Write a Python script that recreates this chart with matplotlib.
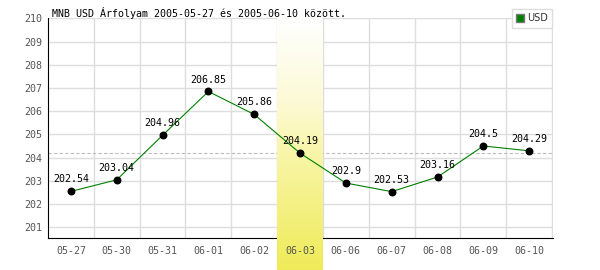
import numpy as np
import matplotlib
matplotlib.use('Agg')
import matplotlib.pyplot as plt
from matplotlib.patches import Patch
from matplotlib.colors import LinearSegmentedColormap

# 數據
dates = ['05-27', '05-30', '05-31', '06-01', '06-02', '06-03',
         '06-06', '06-07', '06-08', '06-09', '06-10']
rates = [202.54, 203.04, 204.96, 206.85, 205.86, 204.19,
         202.9, 202.53, 203.16, 204.5, 204.29]
ref_rate = 204.19
highlight_idx = 5
title = 'MNB USD Árfolyam 2005-05-27 és 2005-06-10 között.'

mono = 'DejaVu Sans Mono'

fig = plt.figure(figsize=(6, 2.7), dpi=100)
ax = fig.add_axes([48 / 600, 32 / 270, 505 / 600, 220 / 270])
ax.set_facecolor('white')

x = np.arange(len(dates))
ymin, ymax = 200.53, 210.02

# 網格
ax.set_axisbelow(True)
ax.set_xticks(x + 0.5, minor=True)
ax.set_xticks(x)
ax.set_yticks(np.arange(201, 211))
ax.grid(True, which='minor', axis='x', color='#dddddd', linewidth=1)
ax.grid(True, which='major', axis='y', color='#dddddd', linewidth=1)
ax.tick_params(which='both', length=0)
ax.tick_params(axis='x', labelbottom=False)
ax.tick_params(axis='y', labelcolor='#555555', labelsize=7.2, pad=4)
for lbl in ax.get_yticklabels():
    lbl.set_family(mono)

for s in ['top', 'right']:
    ax.spines[s].set_visible(False)
ax.spines['left'].set_color('black')
ax.spines['bottom'].set_color('black')

# 高亮列 (漸變)
cmap = LinearSegmentedColormap.from_list(
    'hl', [(0.0, '#ffffff'), (0.33, '#fcfad6'), (0.55, '#f8f5a6'), (1.0, '#efeb58')])
grad = np.linspace(0, 1, 256).reshape(-1, 1)
unit_px = 220 / (ymax - ymin)
y_bottom = ymin - 32 / unit_px
ax.imshow(grad, cmap=cmap, aspect='auto', origin='upper',
          extent=[highlight_idx - 0.5, highlight_idx + 0.5, y_bottom, ymax],
          zorder=2.6, clip_on=False)
ax.set_xlim(-0.5, 10.52)
ax.set_ylim(ymin, ymax)

# 參考線
ax.axhline(ref_rate, color='#bbbbbb', linestyle='--', linewidth=0.8, dashes=(3, 2), zorder=2)

# 匯率線
ax.plot(x, rates, color='#008000', linewidth=0.8, zorder=3)
ax.scatter(x, rates, s=22, color='black', zorder=4)

for xi, v in zip(x, rates):
    ax.annotate(f'{v:g}', (xi, v), xytext=(0, 5), textcoords='offset points',
                ha='center', va='bottom', fontsize=7.2, family=mono, zorder=5)

# x 軸標籤
for xi, d in zip(x, dates):
    ax.text(xi, -0.035, d, transform=ax.get_xaxis_transform(), ha='center', va='top',
            fontsize=7.2, family=mono, color='#555555', zorder=6, clip_on=False)

fig.text(52 / 600, 1 - 13 / 270, title, fontsize=7.2, family=mono, va='center', ha='left')

leg = fig.legend(handles=[Patch(facecolor='#008000', edgecolor='#777777', label='USD')],
                 loc='upper right', bbox_to_anchor=(552 / 600, 1 - 9 / 270),
                 fontsize=7, handlelength=0.8, handleheight=0.8, handletextpad=0.3,
                 borderpad=0.45, fancybox=False, framealpha=1, edgecolor='#dddddd',
                 borderaxespad=0)
leg.get_frame().set_linewidth(1)
for t in leg.get_texts():
    t.set_color('#333333')

plt.savefig('out.png', dpi=100, facecolor='white')
